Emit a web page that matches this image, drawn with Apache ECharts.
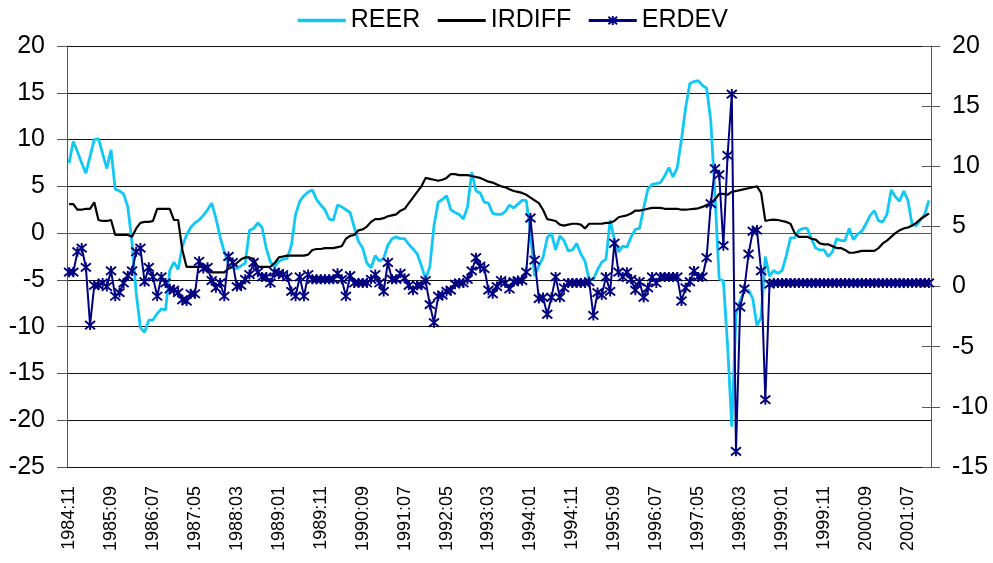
<!DOCTYPE html>
<html lang="en">
<head>
  <meta charset="UTF-8">
  <title>REER / IRDIFF / ERDEV</title>
  <script src="https://cdn.jsdelivr.net/npm/echarts@6/dist/echarts.min.js"></script>
  <style>
    html, body { margin: 0; padding: 0; background: #fff; }
    #main { width: 993px; height: 563px; }
  </style>
</head>
<body>
  <div id="main"></div>
  <script type="text/javascript">
  // monthly categories 1984:11 .. 2001:12
  var months = [];
  for (var y = 1984, m = 11; months.length < 206; ) {
    months.push(y + ':' + (m < 10 ? '0' + m : m));
    m++;
    if (m > 12) { m = 1; y++; }
  }

  var reer = [
    7.5, 9.8, 8.7, 7.5, 6.4, 8.2, 10.0, 10.1, 8.5, 6.9,
    8.9, 4.7, 4.5, 4.2, 2.8, -1.0, -6.4, -10.1, -10.6, -9.3,
    -9.3, -8.6, -8.1, -8.2, -4.0, -3.1, -3.9, -1.4, -0.2, 0.6,
    1.1, 1.4, 1.9, 2.5, 3.2, 1.6, -0.4, -2.0, -3.3, -3.7,
    -3.8, -3.5, -3.2, 0.3, 0.5, 1.1, 0.6, -1.6, -3.1, -3.6,
    -3.0, -2.8, -2.7, -1.3, 2.0, 3.4, 4.0, 4.4, 4.6, 3.6,
    3.0, 2.5, 1.5, 1.4, 3.0, 2.8, 2.5, 2.2, 0.6, -0.9,
    -1.6, -3.2, -3.7, -2.4, -3.0, -2.7, -1.3, -0.6, -0.4, -0.6,
    -0.6, -1.2, -1.7, -2.2, -3.5, -4.9, -3.6, 0.8, 3.3, 3.6,
    4.0, 2.5, 2.2, 2.0, 1.5, 2.8, 6.5, 4.5, 4.3, 3.3,
    3.2, 2.1, 2.0, 2.0, 2.3, 3.0, 2.7, 3.1, 3.5, 3.5,
    0.0, -4.6, -3.5, -2.6, -0.5, 0.0, -1.8, -0.3, -0.8, -1.9,
    -1.8, -1.1, -2.2, -3.0, -5.0, -4.9, -3.9, -3.1, -2.8, 1.4,
    -0.7, -2.0, -1.4, -1.5, -0.4, 0.4, 0.5, 2.7, 4.7, 5.2,
    5.3, 5.4, 6.1, 7.0, 6.0, 7.0, 10.0, 13.4, 16.0, 16.2,
    16.3, 15.8, 15.5, 12.0, 4.0, -4.9, -5.1, -12.0, -20.7, -8.8,
    -7.2, -6.1, -6.1, -7.0, -9.9, -9.0, -2.5, -4.6, -4.0, -4.3,
    -4.0, -2.4, -0.5, -0.5, 0.3, 0.5, 0.5, -0.6, -1.6, -1.8,
    -1.8, -2.5, -2.0, -0.6, -0.8, -0.8, 0.5, -0.7, -0.1, 0.2,
    1.0, 1.9, 2.4, 1.3, 1.2, 2.0, 4.6, 3.9, 3.4, 4.5,
    3.5, 0.9, 0.8, 1.4, 2.0, 3.5
  ];

  var irdiff = [
    3.1, 3.1, 2.5, 2.5, 2.6, 2.6, 3.3, 1.4, 1.3, 1.3,
    1.4, -0.2, -0.2, -0.2, -0.2, -0.4, 0.5, 1.1, 1.2, 1.2,
    1.3, 2.6, 2.6, 2.6, 2.6, 1.4, 1.4, -1.8, -3.6, -3.6,
    -3.6, -3.6, -3.6, -3.9, -4.2, -4.2, -4.2, -4.2, -3.8, -3.6,
    -3.2, -2.8, -2.6, -2.6, -2.8, -3.6, -3.6, -3.6, -3.6, -3.2,
    -2.6, -2.5, -2.4, -2.4, -2.4, -2.4, -2.4, -2.3, -1.8, -1.7,
    -1.7, -1.6, -1.6, -1.6, -1.5, -1.4, -0.6, -0.3, -0.2, 0.3,
    0.4, 0.7, 1.2, 1.5, 1.5, 1.6, 1.8, 1.9, 2.0, 2.4,
    2.6, 3.2, 3.8, 4.4, 5.0, 5.9, 5.8, 5.7, 5.6, 5.7,
    5.9, 6.3, 6.3, 6.2, 6.2, 6.2, 6.1, 6.0, 5.9, 5.7,
    5.5, 5.4, 5.2, 5.0, 4.9, 4.7, 4.5, 4.4, 4.3, 4.1,
    3.8, 3.5, 3.2, 2.5, 1.5, 1.4, 1.3, 0.9, 0.8, 0.9,
    1.0, 1.0, 0.9, 0.5, 1.0, 1.0, 1.0, 1.0, 1.1, 1.1,
    1.3, 1.7, 1.8, 1.9, 2.1, 2.4, 2.4, 2.5, 2.6, 2.7,
    2.7, 2.7, 2.6, 2.6, 2.6, 2.6, 2.5, 2.5, 2.55, 2.6,
    2.65, 2.8, 3.0, 3.2, 3.6, 4.2, 4.2, 4.1, 4.4, 4.5,
    4.6, 4.7, 4.8, 4.9, 5.0, 4.3, 1.3, 1.4, 1.45, 1.4,
    1.3, 1.2, 1.0, 0.0, -0.4, -0.4, -0.4, -0.6, -0.7, -1.1,
    -1.2, -1.2, -1.4, -1.6, -1.6, -1.8, -2.1, -2.1, -2.0, -1.9,
    -1.9, -1.9, -1.9, -1.6, -1.1, -0.8, -0.4, 0.0, 0.3, 0.5,
    0.6, 0.8, 1.1, 1.5, 1.8, 2.1
  ];

  var erdev = [
    1.2, 1.2, 2.9, 3.2, 1.6, -3.2, 0.1, 0.1, 0.3, 0.0,
    1.3, -0.8, -0.5, 0.3, 0.9, 1.3, 2.9, 3.2, 0.4, 1.6,
    0.8, -0.8, 0.8, 0.3, -0.2, -0.3, -0.5, -1.1, -1.2, -0.6,
    -0.6, 2.1, 1.5, 1.6, 0.5, -0.1, 0.3, -0.8, 2.5, 2.0,
    0.0, 0.1, 0.6, 1.0, 2.0, 1.2, 0.8, 0.8, 0.3, 1.2,
    1.1, 1.0, 0.8, -0.4, -0.8, 0.8, -0.8, 1.0, 0.6, 0.6,
    0.6, 0.6, 0.6, 0.6, 1.1, 0.6, -0.8, 0.9, 0.3, 0.3,
    0.3, 0.3, 0.6, 1.0, 0.3, -0.4, 2.0, 0.6, 0.6, 1.1,
    0.7, 0.1, -0.3, 0.1, 0.1, 0.5, -1.5, -3.0, -0.8, -0.7,
    -0.4, -0.3, 0.2, 0.3, 0.3, 0.6, 1.3, 2.4, 1.7, 1.5,
    -0.3, -0.6, 0.0, 0.5, 0.3, -0.2, 0.4, 0.5, 0.5, 1.2,
    5.7, 2.2, -1.0, -0.9, -2.3, -0.9, 0.8, -0.9, -0.1, 0.3,
    0.3, 0.3, 0.3, 0.3, 0.4, -2.4, -0.5, -0.7, 0.8, -0.4,
    3.6, 1.2, 0.8, 1.2, 0.6, -0.3, 0.4, -0.9, -0.1, 0.8,
    0.3, 0.8, 0.8, 0.8, 0.8, 0.8, -1.2, -0.1, 0.4, 1.3,
    0.8, 0.8, 2.4, 6.9, 9.8, 9.3, 3.4, 10.9, 16.0, -13.7,
    -1.7, -0.2, 2.7, 4.6, 4.7, 1.3, -9.4, 0.2, 0.3, 0.3,
    0.3, 0.3, 0.3, 0.3, 0.3, 0.3, 0.3, 0.3, 0.3, 0.3,
    0.3, 0.3, 0.3, 0.3, 0.3, 0.3, 0.3, 0.3, 0.3, 0.3,
    0.3, 0.3, 0.3, 0.3, 0.3, 0.3, 0.3, 0.3, 0.3, 0.3,
    0.3, 0.3, 0.3, 0.3, 0.3, 0.3
  ];

  var font = "'Liberation Sans', Arial, sans-serif";
  var starPath = 'path://M0,0L10,10M10,0L0,10M5,-1L5,11';

  var chart = echarts.init(document.getElementById('main'));
  chart.setOption({
    animation: false,
    backgroundColor: '#fff',
    textStyle: { fontFamily: font, color: '#000' },
    legend: {
      top: 3,
      left: 291,
      itemWidth: 48,
      itemHeight: 11,
      itemGap: 16,
      textStyle: { fontSize: 25, color: '#000', fontFamily: font },
      data: [
        { name: 'REER', itemStyle: { opacity: 0 }, lineStyle: { width: 3.5 } },
        { name: 'IRDIFF', itemStyle: { opacity: 0 }, lineStyle: { width: 3 } },
        { name: 'ERDEV', lineStyle: { width: 3 } }
      ]
    },
    grid: { left: 67, right: 62, top: 46, bottom: 96, containLabel: false },
    xAxis: {
      type: 'category',
      boundaryGap: true,
      data: months,
      axisLine: { lineStyle: { color: '#555', width: 1 } },
      axisTick: { show: false },
      axisLabel: {
        interval: 9,
        rotate: 90,
        margin: 19,
        fontSize: 18,
        color: '#000',
        fontFamily: font
      },
      splitLine: { show: false }
    },
    yAxis: [
      {
        type: 'value',
        position: 'left',
        min: -25, max: 20, interval: 5,
        axisLine: { show: true, lineStyle: { color: '#555' } },
        axisTick: { show: true, inside: false, length: 10, lineStyle: { color: '#555' } },
        axisLabel: { fontSize: 25, color: '#000', margin: 22, fontFamily: font },
        splitLine: { show: true, lineStyle: { color: '#111', width: 1 } }
      },
      {
        type: 'value',
        position: 'right',
        min: -15, max: 20, interval: 5,
        axisLine: { show: true, lineStyle: { color: '#555' } },
        axisTick: { show: true, inside: false, length: 9, lineStyle: { color: '#555' } },
        axisLabel: { fontSize: 25, color: '#000', margin: 21, fontFamily: font },
        splitLine: { show: false }
      },
      {
        type: 'value',
        position: 'right',
        min: -15, max: 20, interval: 5,
        axisLine: { show: false },
        axisTick: { show: true, inside: true, length: 9, lineStyle: { color: '#555' } },
        axisLabel: { show: false },
        splitLine: { show: false }
      }
    ],
    series: [
      {
        name: 'REER',
        type: 'line',
        yAxisIndex: 0,
        data: reer,
        symbol: 'none',
        lineStyle: { color: '#10C8F6', width: 2.8 },
        itemStyle: { color: '#10C8F6' },
        z: 2
      },
      {
        name: 'IRDIFF',
        type: 'line',
        yAxisIndex: 0,
        data: irdiff,
        symbol: 'none',
        lineStyle: { color: '#000', width: 2.2 },
        itemStyle: { color: '#000' },
        z: 3
      },
      {
        name: 'ERDEV',
        type: 'line',
        yAxisIndex: 1,
        data: erdev,
        symbol: starPath,
        symbolSize: 10,
        showAllSymbol: true,
        lineStyle: { color: '#000080', width: 2 },
        itemStyle: { color: '#000080', borderColor: '#000080', borderWidth: 1.9 },
        z: 4
      }
    ]
  });
  </script>
</body>
</html>
